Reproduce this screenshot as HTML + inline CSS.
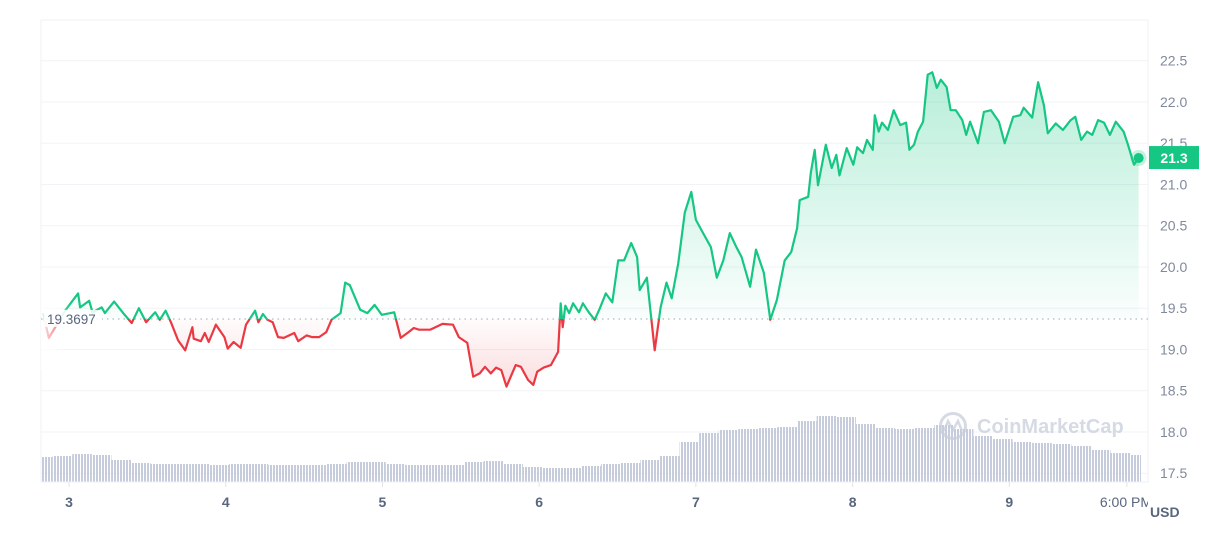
<!DOCTYPE html>
<html><head><meta charset="utf-8">
<style>
html,body{margin:0;padding:0;background:#fff;}
svg{display:block;font-family:"Liberation Sans",sans-serif;}
</style></head>
<body>
<svg id="chart" width="1224" height="544" viewBox="0 0 1224 544">
<defs>
  <linearGradient id="gUp" gradientUnits="userSpaceOnUse" x1="0" y1="60" x2="0" y2="321">
    <stop offset="0" stop-color="#16c784" stop-opacity="0.32"/>
    <stop offset="1" stop-color="#16c784" stop-opacity="0.02"/>
  </linearGradient>
  <linearGradient id="gDown" gradientUnits="userSpaceOnUse" x1="0" y1="321" x2="0" y2="390">
    <stop offset="0" stop-color="#ea3943" stop-opacity="0.02"/>
    <stop offset="1" stop-color="#ea3943" stop-opacity="0.18"/>
  </linearGradient>
  <linearGradient id="gFade" x1="0" y1="0" x2="1" y2="0">
    <stop offset="0" stop-color="#fff" stop-opacity="0.9"/>
    <stop offset="1" stop-color="#fff" stop-opacity="0"/>
  </linearGradient>
  <pattern id="stripes" width="3" height="10" patternUnits="userSpaceOnUse">
    <rect x="0" y="0" width="2" height="10" fill="#c6ccdb"/>
  </pattern>
  <clipPath id="clipUp"><rect id="clipUpRect" x="0" y="0" width="1224" height="321"/></clipPath>
  <clipPath id="clipDown"><rect id="clipDownRect" x="0" y="321" width="1224" height="300"/></clipPath>
  <clipPath id="clipXLab"><rect x="0" y="480" width="1148" height="40"/></clipPath>
</defs>
<g id="grid"></g>
<rect x="41" y="20" width="1107" height="462" fill="none" stroke="#eff2f5" stroke-width="1"/>
<g id="volume"></g>
<g id="watermark" opacity="0.75">
  <circle cx="953" cy="426" r="12.5" fill="none" stroke="#c8cedb" stroke-width="3"/>
  <path d="M944 431 L948 421 L953 430 L958 421 L962 431" fill="none" stroke="#c8cedb" stroke-width="2.5"/>
  <text x="977" y="433" font-size="20" font-weight="bold" fill="#c8cedb">CoinMarketCap</text>
</g>
<g id="areas"></g>
<g id="lines"></g>
<rect x="41" y="270" width="30" height="100" fill="url(#gFade)"/>
<line id="baseLine" x1="41" x2="1148" stroke="#a0a7b5" stroke-width="1" stroke-dasharray="1.5,4"/>
<g>
  <rect id="baseLabelBg" x="44" y="313" width="58" height="17" fill="#fff" opacity="0.85"/>
  <text id="baseLabel" x="47" y="327" font-size="13.5" fill="#58667e"></text>
</g>
<g id="yaxis"></g>
<g id="xaxis" clip-path="url(#clipXLab)"></g>
<line x1="41" x2="1148" y1="482" y2="482" stroke="#eff2f5"/>
<text x="1150" y="517" font-size="14" font-weight="bold" fill="#58667e">USD</text>
<g id="endMarker"></g>
<g>
  <rect id="tagRect" x="1149" width="50" height="23" fill="#16c784"/>
  <text id="tagText" x="1174" font-size="14" font-weight="bold" fill="#fff" text-anchor="middle">21.3</text>
</g>
</svg>
<script>
const hours = [-4.0,-3.1,-0.5,1.4,1.7,3.1,3.6,5.0,5.5,6.9,8.3,9.6,10.7,11.8,13.2,13.9,14.8,15.6,16.7,17.8,18.9,19.1,20.2,20.8,21.4,22.5,23.8,24.3,25.2,26.3,27.1,28.5,29.0,29.7,30.4,31.2,32.0,32.9,34.5,35.1,36.4,37.2,38.3,39.4,40.2,41.6,42.3,43.0,44.6,45.7,46.8,47.9,49.8,50.8,52.0,52.8,53.6,55.3,57.2,58.8,59.7,61.0,61.9,62.9,63.7,64.6,65.4,66.2,67.0,68.4,69.2,70.3,71.1,71.7,72.7,73.8,74.9,75.3,75.6,76.0,76.6,77.2,78.1,78.7,79.6,80.5,81.3,82.2,83.2,84.1,85.0,86.1,87.0,87.4,88.5,89.7,90.6,91.5,92.3,93.3,94.3,95.3,96.0,97.1,98.3,99.2,100.2,101.2,102.2,103.0,104.3,105.2,106.4,107.4,108.4,109.6,110.6,111.5,111.9,113.2,113.6,114.2,114.7,115.9,116.8,117.5,118.0,119.1,120.1,120.7,121.6,122.2,123.1,123.4,124.0,124.5,125.4,126.3,127.3,128.2,128.7,129.4,130.0,130.8,131.5,132.2,132.9,133.5,134.4,135.0,135.8,136.8,137.4,138.0,139.2,140.1,141.2,142.4,143.3,144.6,145.7,146.2,147.5,148.4,149.3,149.9,151.1,152.2,153.4,154.1,155.0,155.9,156.7,157.6,158.5,159.4,160.3,161.5,162.1,163.1,163.8];
const prices = [19.44,19.14,19.48,19.68,19.51,19.59,19.45,19.51,19.44,19.58,19.44,19.32,19.50,19.33,19.45,19.36,19.47,19.33,19.11,18.99,19.27,19.13,19.10,19.20,19.09,19.30,19.15,19.01,19.09,19.02,19.30,19.47,19.33,19.43,19.36,19.33,19.15,19.14,19.20,19.10,19.17,19.15,19.15,19.21,19.36,19.44,19.81,19.78,19.48,19.44,19.54,19.42,19.45,19.14,19.21,19.26,19.24,19.24,19.31,19.30,19.15,19.08,18.67,18.71,18.79,18.71,18.78,18.75,18.55,18.81,18.79,18.63,18.57,18.73,18.78,18.81,18.97,19.56,19.27,19.53,19.44,19.56,19.45,19.56,19.45,19.36,19.50,19.68,19.57,20.08,20.08,20.29,20.12,19.72,19.87,18.99,19.51,19.81,19.62,20.04,20.66,20.91,20.57,20.41,20.24,19.87,20.08,20.41,20.24,20.12,19.76,20.21,19.93,19.36,19.60,20.08,20.18,20.47,20.81,20.85,21.14,21.42,20.99,21.48,21.20,21.36,21.11,21.44,21.24,21.45,21.38,21.54,21.42,21.84,21.64,21.75,21.66,21.90,21.72,21.75,21.42,21.48,21.64,21.76,22.33,22.36,22.17,22.27,22.18,21.90,21.90,21.78,21.60,21.76,21.50,21.88,21.90,21.76,21.50,21.82,21.84,21.93,21.81,22.24,21.96,21.62,21.74,21.66,21.78,21.82,21.54,21.64,21.60,21.78,21.75,21.60,21.76,21.64,21.50,21.24,21.32];
const baseline = 19.3697;
const volHours = [-4,-1,2,5,8,11,14,17,20,23,26,29,32,35,38,41,44,47,50,53,56,59,62,65,68,71,74,77,80,83,86,89,92,95,98,101,104,107,110,113,116,119,122,125,128,131,134,137,140,143,146,149,152,155,158,161,164];
const volumes = [17,18,20,19,14,11,10,10,10,9,10,10,9,9,9,10,12,12,10,9,9,9,12,13,10,7,6,6,8,10,11,14,18,32,41,44,45,46,47,53,58,57,50,46,45,46,49,45,38,35,32,31,30,28,24,21,19];
const yTicks = [17.5,18.0,18.5,19.0,19.5,20.0,20.5,21.0,21.5,22.0,22.5];
const xTickHours = [0,24,48,72,96,120,144,162];
const xTickLabels = ["3","4","5","6","7","8","9","6:00 PM"];
const currentLabel = "21.3";

const NS = "http://www.w3.org/2000/svg";
function X(h){ return 69 + h*6.53; }
function Y(v){ return 60.7 + (22.5 - v)*82.5; }
function VY(v){ return 482 - (v + 8); }
function mk(tag, attrs, parent){
  const e = document.createElementNS(NS, tag);
  for (const k in attrs) e.setAttribute(k, attrs[k]);
  parent.appendChild(e); return e;
}
const grid = document.getElementById('grid');
const yaxis = document.getElementById('yaxis');
yTicks.forEach(v=>{
  const l = mk('line',{x1:41,x2:1148,y1:Y(v),y2:Y(v),stroke:'#f1f3f6','stroke-width':1},grid);
  
  
  const t = mk('text',{x:1160,y:Y(v)+5,'font-size':14,fill:'#808a9d'},yaxis);
  t.textContent = v.toFixed(1);
  
  
});
const xaxis = document.getElementById('xaxis');
xTickHours.forEach((h,i)=>{
  const last = i===xTickHours.length-1;
  const tk = mk('line',{x1:X(h),x2:X(h),y1:482,y2:487,stroke:'#e0e3e8'},xaxis);
  
  
  const t = mk('text',{x:last?X(h)-27:X(h),y:507,'font-size':14,'font-weight':last?'normal':'bold',fill:'#58667e','text-anchor':last?'start':'middle'},xaxis);
  t.textContent = xTickLabels[i];
  
  
});
const vol = document.getElementById('volume');
volHours.forEach((h,i)=>{
  const x0 = Math.max(41, X(h) - 9.8), x1 = Math.min(1141, X(h) + 9.8);
  const r = mk('rect',{x:x0,y:VY(volumes[i]),width:Math.max(0,x1-x0),height:482-VY(volumes[i]),fill:'url(#stripes)'},vol);
  
  
});
const by = Y(baseline);
document.getElementById('clipUpRect').setAttribute('height', by);
document.getElementById('clipDownRect').setAttribute('y', by);
const bl = document.getElementById('baseLine'); bl.setAttribute('y1', by); bl.setAttribute('y2', by);
document.getElementById('baseLabel').textContent = baseline.toString();
document.getElementById('baseLabelBg').setAttribute('y', by-9);
document.getElementById('baseLabel').setAttribute('y', by+5);

let d = '';
hours.forEach((h,i)=>{ d += (i?'L':'M') + X(h).toFixed(1) + ' ' + Y(prices[i]).toFixed(1); });
const area = d + 'L' + X(hours[hours.length-1]).toFixed(1) + ' ' + by + 'L' + X(hours[0]).toFixed(1) + ' ' + by + 'Z';
const areas = document.getElementById('areas');
const a1 = mk('path',{d:area,fill:'url(#gUp)','clip-path':'url(#clipUp)'},areas);


const a2 = mk('path',{d:area,fill:'url(#gDown)','clip-path':'url(#clipDown)'},areas);


const lines = document.getElementById('lines');
const l1 = mk('path',{d:d,fill:'none',stroke:'#16c784','stroke-width':2.2,'stroke-linejoin':'round','clip-path':'url(#clipUp)'},lines);


const l2 = mk('path',{d:d,fill:'none',stroke:'#ea3943','stroke-width':2.2,'stroke-linejoin':'round','clip-path':'url(#clipDown)'},lines);


const lastX = X(hours[hours.length-1]), lastY = Y(prices[prices.length-1]);
const em = document.getElementById('endMarker');
const halo = mk('circle',{cx:lastX,cy:lastY,r:8,fill:'#16c784','fill-opacity':0.25},em);


const dot = mk('circle',{cx:lastX,cy:lastY,r:5,fill:'#16c784'},em);


document.getElementById('tagRect').setAttribute('y', lastY-12);
document.getElementById('tagText').setAttribute('y', lastY+5);
document.getElementById('tagText').textContent = currentLabel;
</script>
</body></html>
